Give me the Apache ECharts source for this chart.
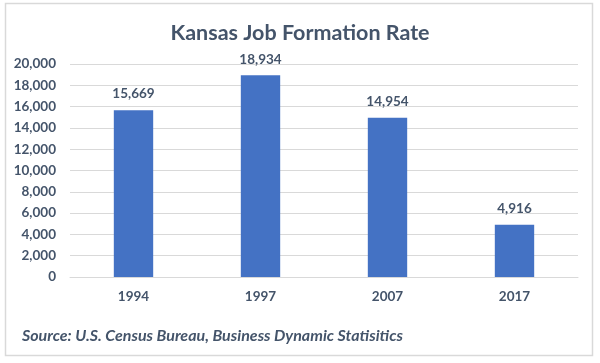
<!DOCTYPE html>
<html>
<head>
<meta charset="utf-8">
<script src="https://cdn.jsdelivr.net/npm/echarts@6/dist/echarts.min.js"></script>
<style>
html,body{margin:0;padding:0;background:#fff;}
#c{width:600px;height:363px;}
</style>
</head>
<body>
<div id="c"></div>
<script>
const categories = ['1994', '1997', '2007', '2017'];
const values = [15669, 18934, 14954, 4916];
const yTicks = [0, 2000, 4000, 6000, 8000, 10000, 12000, 14000, 16000, 18000, 20000];

const textColor = '#44546A';
const font = 'Lato, "Open Sans", sans-serif';
const chart = echarts.init(document.getElementById('c'));
chart.setOption({
  animation: false,
  textStyle: { fontFamily: font },
  title: {
    text: 'Kansas Job Formation Rate',
    left: 'center',
    top: 17,
    textStyle: { color: textColor, fontSize: 21.5, fontWeight: 'bold', fontFamily: font }
  },
  graphic: [
    {
      type: 'rect',
      shape: { x: 5.5, y: 3.5, width: 587, height: 352 },
      style: { fill: 'none', stroke: '#D9D9D9', lineWidth: 1.5 },
      z: -1
    },
    {
      type: 'text',
      left: 22,
      top: 328,
      style: {
        text: 'Source: U.S. Census Bureau, Business Dynamic Statisitics',
        fill: textColor,
        font: 'italic bold 16px ' + font
      }
    }
  ],
  grid: { left: 70, right: 22, top: 64, bottom: 86, containLabel: false },
  xAxis: {
    type: 'category',
    data: categories,
    axisLine: { lineStyle: { color: '#D9D9D9' } },
    axisTick: { show: false },
    axisLabel: { color: textColor, fontSize: 13.5, fontWeight: 'bold', margin: 13, fontFamily: font }
  },
  yAxis: {
    type: 'value',
    min: yTicks[0],
    max: yTicks[yTicks.length - 1],
    interval: 2000,
    axisLine: { show: false },
    axisTick: { show: false },
    splitLine: { lineStyle: { color: '#D9D9D9' } },
    axisLabel: {
      color: textColor, fontSize: 13.5, fontWeight: 'bold', margin: 14, fontFamily: font,
      formatter: v => v.toLocaleString('en-US')
    }
  },
  series: [{
    type: 'bar',
    data: values,
    barWidth: '31%',
    itemStyle: { color: '#4472C4' },
    label: {
      show: true,
      position: 'top',
      distance: 9,
      color: textColor,
      fontSize: 13.5,
      fontWeight: 'bold',
      fontFamily: font,
      formatter: p => p.value.toLocaleString('en-US')
    }
  }]
});
</script>
</body>
</html>
